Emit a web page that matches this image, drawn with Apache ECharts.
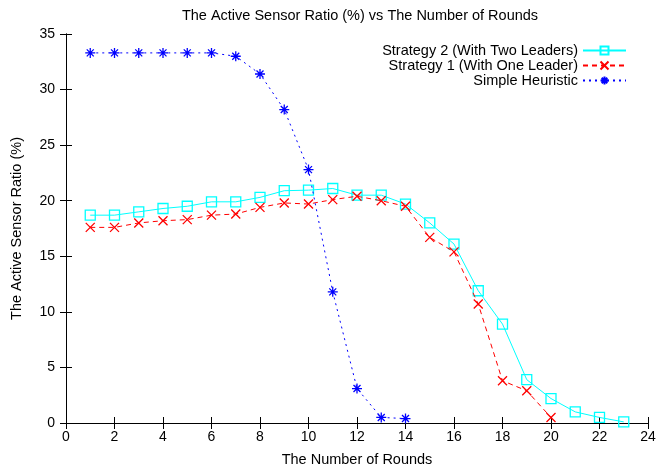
<!DOCTYPE html>
<html><head><meta charset="utf-8">
<script src="https://cdn.jsdelivr.net/npm/echarts@6/dist/echarts.min.js"></script>
<style>html,body{margin:0;padding:0;background:#fff}#c{width:656px;height:470px}</style>
</head><body><div id="c"></div>
<script>
const rounds2 = [1,2,3,4,5,6,7,8,9,10,11,12,13,14,15,16,17,18,19,20,21,22,23];
const strategy2 = [18.7,18.7,19.0,19.3,19.5,19.9,19.9,20.3,20.9,20.95,21.1,20.5,20.5,19.7,18.0,16.1,11.9,8.9,3.9,2.2,1.0,0.5,0.1];
const rounds1 = [1,2,3,4,5,6,7,8,9,10,11,12,13,14,15,16,17,18,19,20];
const strategy1 = [17.6,17.6,18.0,18.2,18.3,18.7,18.8,19.4,19.8,19.7,20.1,20.4,20.0,19.5,16.7,15.4,10.7,3.8,2.9,0.5];
const roundsH = [1,2,3,4,5,6,7,8,9,10,11,12,13,14];
const heuristic = [33.3,33.3,33.3,33.3,33.3,33.3,33.0,31.4,28.2,22.8,11.8,3.1,0.5,0.4];
const names = ['Strategy 2 (With Two Leaders)','Strategy 1 (With One Leader)','Simple Heuristic'];

const pair = (xs, ys) => xs.map((x, i) => [x, ys[i]]);
const font = 'Liberation Sans, Arial, sans-serif';
const chart = echarts.init(document.getElementById('c'));
const axisCommon = {
  axisLine: {show: true, lineStyle: {color: '#000', width: 1}},
  axisTick: {show: true, inside: true, length: 6, lineStyle: {color: '#000'}},
  splitLine: {show: false}
};
chart.setOption({
  animation: false,
  backgroundColor: '#fff',
  title: {text: 'The Active Sensor Ratio (%) vs The Number of Rounds', left: 355, top: 3, textAlign: 'center',
    textStyle: {fontFamily: font, fontSize: 14.5, fontWeight: 'normal', color: '#000'}},
  grid: {left: 66, right: 8, top: 34, bottom: 47, containLabel: false, outerBoundsMode: 'none'},
  legend: {
    orient: 'vertical', right: 24, top: 38, align: 'right', itemWidth: 43, itemHeight: 10, itemGap: 0,
    data: names,
    textStyle: {fontFamily: font, fontSize: 14.5, lineHeight: 15, color: '#000'}
  },
  xAxis: [
    Object.assign({type: 'value', min: 0, max: 24, interval: 2, position: 'bottom',
      name: 'The Number of Rounds', nameLocation: 'middle', nameGap: 29,
      nameTextStyle: {fontFamily: font, fontSize: 14.5, color: '#000'},
      axisLabel: {fontFamily: font, fontSize: 14, color: '#000', margin: 7}}, axisCommon),
    Object.assign({type: 'value', min: 0, max: 24, interval: 2, position: 'top', axisLabel: {show: false}}, axisCommon)
  ],
  yAxis: [
    Object.assign({type: 'value', min: 0, max: 35, interval: 5, position: 'left',
      name: 'The Active Sensor Ratio (%)', nameLocation: 'middle', nameGap: 42, nameRotate: 90,
      nameTextStyle: {fontFamily: font, fontSize: 14.5, color: '#000'},
      axisLabel: {fontFamily: font, fontSize: 14, color: '#000', margin: 11}}, axisCommon),
    Object.assign({type: 'value', min: 0, max: 35, interval: 5, position: 'right', axisLabel: {show: false}}, axisCommon)
  ],
  series: [
    {name: names[0], type: 'line', data: pair(rounds2, strategy2), z: 2,
      symbol: 'path://M0,0L10,0L10,10L0,10Z', symbolSize: 10, showAllSymbol: true,
      lineStyle: {color: '#00ffff', width: 1, type: 'solid'},
      itemStyle: {color: 'rgba(0,0,0,0)', borderColor: '#00ffff', borderWidth: 1.3}},
    {name: names[1], type: 'line', data: pair(rounds1, strategy1), z: 3,
      symbol: 'path://M0,0L10,10M10,0L0,10', symbolSize: 9, showAllSymbol: true,
      lineStyle: {color: '#ff0000', width: 1, type: [5, 4]},
      itemStyle: {color: 'rgba(0,0,0,0)', borderColor: '#ff0000', borderWidth: 1.3}},
    {name: names[2], type: 'line', data: pair(roundsH, heuristic), z: 4,
      symbol: 'path://M5,0L5,10M0,5L10,5M1.5,1.5L8.5,8.5M8.5,1.5L1.5,8.5', symbolSize: 10, showAllSymbol: true,
      lineStyle: {color: '#0000ff', width: 1, type: [2, 4]},
      itemStyle: {color: 'rgba(0,0,0,0)', borderColor: '#0000ff', borderWidth: 1.3}}
  ]
});
</script></body></html>
